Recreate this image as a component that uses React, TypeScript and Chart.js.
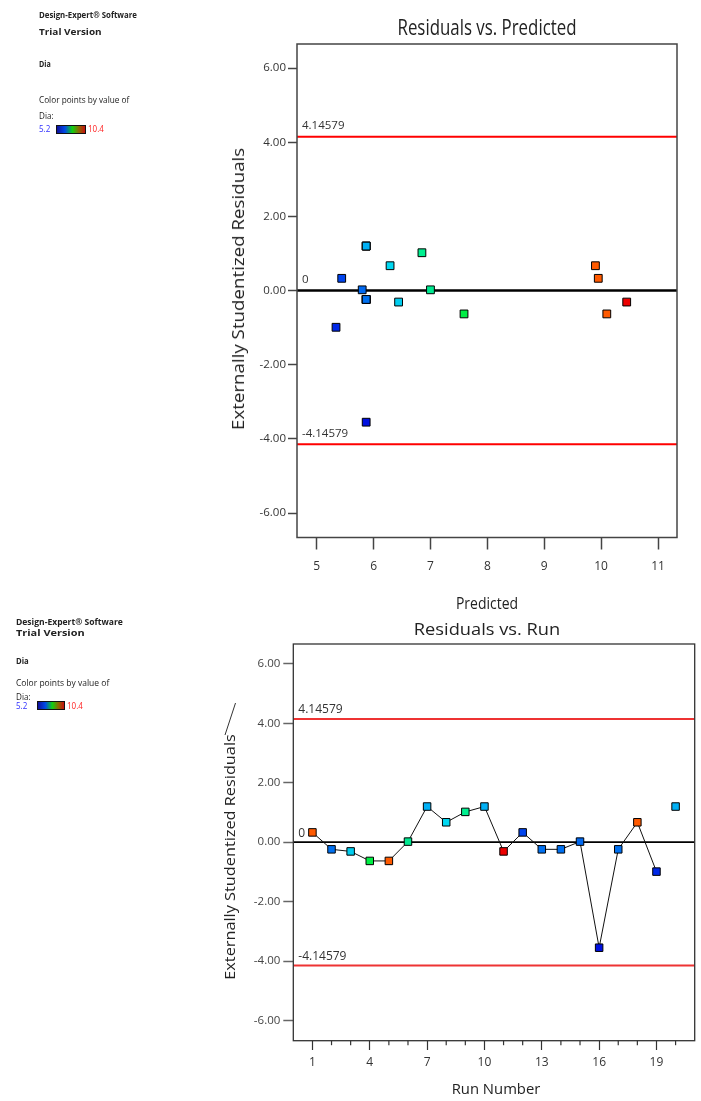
import React, { useEffect, useLayoutEffect, useRef, useState } from 'react';
import { Chart, registerables } from 'chart.js';

Chart.register(...registerables);

// ---------- data ----------
const runNumbers = [1, 2, 3, 4, 5, 6, 7, 8, 9, 10, 11, 12, 13, 14, 15, 16, 17, 18, 19, 20];
const predicted = [9.95, 5.87, 6.44, 7.59, 10.1, 7.0, 5.87, 6.29, 6.85, 5.87, 10.45, 5.44, 5.87, 5.87, 5.8, 5.87, 5.87, 9.9, 5.34, 5.87];
const residuals = [0.33, -0.24, -0.31, -0.63, -0.63, 0.02, 1.2, 0.67, 1.02, 1.2, -0.31, 0.33, -0.24, -0.24, 0.02, -3.55, -0.24, 0.67, -0.99, 1.2];
const pointColors = [
  '#ff5a00', '#0070f0', '#00cdef', '#00ee44', '#ff5a00',
  '#00e890', '#00b0f5', '#00d8f2', '#00f090', '#00b0f5',
  '#ee0000', '#0044ee', '#0070f0', '#0070f0', '#0068f0',
  '#0010e0', '#0070f0', '#ff5a00', '#0028e8', '#00b0f5',
];
const connectedRunCount = 19;
const limit = 4.14579;
const residualTicks = [-6, -4, -2, 0, 2, 4, 6];
const predictedTicks = [5, 6, 7, 8, 9, 10, 11];
const runTickLabels = [1, 4, 7, 10, 13, 16, 19];
const predictedRange = [4.654, 11.334];
const runRange = [0, 21];
const topResidualRange = [-6.66, 6.65];
const bottomResidualRange = [-6.68, 6.67];
const diaRange = ['5.2', '10.4'];

const FONT = '"Open Sans", sans-serif';

// ---------- plugin: frame, limit labels, minor ticks ----------
const framePlugin = {
  id: 'frame',
  afterDraw(chart: any, _args: any, opts: any) {
    const { ctx, chartArea } = chart;
    const ys = chart.scales.y;
    const xs = chart.scales.x;
    ctx.save();
    ctx.strokeStyle = opts.color || '#444';
    ctx.lineWidth = opts.width || 1.5;
    ctx.strokeRect(chartArea.left, chartArea.top, chartArea.right - chartArea.left, chartArea.bottom - chartArea.top);
    // limit labels
    ctx.fillStyle = '#333';
    ctx.font = opts.labelFont;
    ctx.textBaseline = 'middle';
    ctx.textAlign = 'left';
    (opts.labels || []).forEach((l: any) => {
      ctx.fillText(l.text, chartArea.left + 5, ys.getPixelForValue(l.value) - opts.labelOffset);
    });
    // minor ticks
    if (opts.minorTicks) {
      ctx.strokeStyle = '#333';
      ctx.lineWidth = 1.2;
      opts.minorTicks.forEach((v: number) => {
        const px = xs.getPixelForValue(v);
        ctx.beginPath();
        ctx.moveTo(px, chartArea.bottom);
        ctx.lineTo(px, chartArea.bottom + opts.minorLen);
        ctx.stroke();
      });
    }
    ctx.restore();
  },
};

function hLine(y: number, range: number[], color: string, width: number) {
  return {
    data: [{ x: range[0], y }, { x: range[1], y }],
    showLine: true,
    borderColor: color,
    borderWidth: width,
    pointRadius: 0,
  };
}

function makeTopConfig(): any {
  return {
    type: 'scatter',
    data: {
      datasets: [
        {
          data: predicted.map((p, i) => ({ x: p, y: residuals[i] })),
          pointStyle: 'rect',
          pointRadius: 5.5,
          pointBackgroundColor: pointColors,
          pointBorderColor: '#000',
          pointBorderWidth: 1,
          showLine: false,
        },
        hLine(0, predictedRange, '#000', 2.5),
        hLine(limit, predictedRange, '#ff0000', 2),
        hLine(-limit, predictedRange, '#ff0000', 2),
      ],
    },
    options: {
      animation: false,
      responsive: false,
      events: [],
      layout: { padding: { left: 0, right: 24, top: 44, bottom: 0 } },
      plugins: {
        legend: { display: false },
        tooltip: { enabled: false },
        frame: {
          color: '#444',
          width: 1.5,
          labelFont: `11.5px ${FONT}`,
          labelOffset: 11,
          labels: [
            { value: limit, text: String(limit) },
            { value: 0, text: '0' },
            { value: -limit, text: String(-limit) },
          ],
        },
      },
      scales: {
        x: {
          type: 'linear',
          min: predictedRange[0],
          max: predictedRange[1],
          afterBuildTicks: (s: any) => { s.ticks = predictedTicks.map((v) => ({ value: v })); },
          afterFit: (s: any) => { s.height = 82.5; },
          ticks: { padding: 10, font: { size: 12, family: FONT }, color: '#333', callback: (v: any) => String(v) },
          grid: { drawOnChartArea: false, drawTicks: true, tickLength: 12, tickColor: '#444', tickWidth: 1.5 },
          border: { display: false },
        },
        y: {
          type: 'linear',
          min: topResidualRange[0],
          max: topResidualRange[1],
          afterBuildTicks: (s: any) => { s.ticks = residualTicks.map((v) => ({ value: v })); },
          afterFit: (s: any) => { s.width = 297; },
          ticks: { padding: 2, font: { size: 11.5, family: FONT }, color: '#333', callback: (v: any) => Number(v).toFixed(2) },
          grid: { drawOnChartArea: false, drawTicks: true, tickLength: 9, tickColor: '#444', tickWidth: 1.5 },
          border: { display: false },
        },
      },
    },
    plugins: [framePlugin],
  };
}

function makeBottomConfig(): any {
  const connected = runNumbers.slice(0, connectedRunCount).map((r, i) => ({ x: r, y: residuals[i] }));
  return {
    type: 'scatter',
    data: {
      datasets: [
        {
          data: runNumbers.map((r, i) => ({ x: r, y: residuals[i] })),
          pointStyle: 'rect',
          pointRadius: 5.3,
          pointBackgroundColor: pointColors,
          pointBorderColor: '#000',
          pointBorderWidth: 1,
          showLine: false,
        },
        { data: connected, showLine: true, borderColor: '#111', borderWidth: 1, pointRadius: 0 },
        hLine(0, runRange, '#000', 1.8),
        hLine(limit, runRange, '#ee3333', 2),
        hLine(-limit, runRange, '#ee3333', 2),
      ],
    },
    options: {
      animation: false,
      responsive: false,
      events: [],
      layout: { padding: { left: 0, right: 2, top: 24, bottom: 0 } },
      plugins: {
        legend: { display: false },
        tooltip: { enabled: false },
        frame: {
          color: '#333',
          width: 1.3,
          labelFont: `12px ${FONT}`,
          labelOffset: 9,
          labels: [
            { value: limit, text: String(limit) },
            { value: 0, text: '0' },
            { value: -limit, text: String(-limit) },
          ],
          minorTicks: runNumbers.filter((r) => !runTickLabels.includes(r)),
          minorLen: 4.5,
        },
      },
      scales: {
        x: {
          type: 'linear',
          min: runRange[0],
          max: runRange[1],
          afterBuildTicks: (s: any) => { s.ticks = runTickLabels.map((v) => ({ value: v })); },
          afterFit: (s: any) => { s.height = 60.3; },
          ticks: { padding: 5, font: { size: 12, family: FONT }, color: '#333', callback: (v: any) => String(v) },
          grid: { drawOnChartArea: false, drawTicks: true, tickLength: 9.3, tickColor: '#333', tickWidth: 1.2 },
          border: { display: false },
        },
        y: {
          type: 'linear',
          min: bottomResidualRange[0],
          max: bottomResidualRange[1],
          afterBuildTicks: (s: any) => { s.ticks = residualTicks.map((v) => ({ value: v })); },
          afterFit: (s: any) => { s.width = 293.3; },
          ticks: { padding: 3, font: { size: 11.5, family: FONT }, color: '#444', callback: (v: any) => Number(v).toFixed(2) },
          grid: { drawOnChartArea: false, drawTicks: true, tickLength: 10, tickColor: '#666', tickWidth: 1.5 },
          border: { display: false },
        },
      },
    },
    plugins: [framePlugin],
  };
}

// ---------- text helper ----------
type FitProps = {
  text: string; x: number; y: number; width: number; size: number;
  weight?: number; color?: string; align?: 'center' | 'left'; rotate?: boolean;
};
function FitText({ text, x, y, width, size, weight = 400, color = '#222', align = 'center', rotate = false }: FitProps) {
  const ref = useRef<HTMLSpanElement>(null);
  const [s, setS] = useState(1);
  useLayoutEffect(() => {
    if (ref.current) {
      const w = ref.current.offsetWidth;
      if (w > 0) setS(width / w);
    }
  }, [text, width, size]);
  const transform = align === 'center'
    ? `translate(-50%, -50%) ${rotate ? 'rotate(-90deg) ' : ''}scaleX(${s})`
    : `translateY(-50%) scaleX(${s})`;
  return (
    <span
      ref={ref}
      style={{
        position: 'absolute', left: x, top: y, whiteSpace: 'nowrap', fontSize: size,
        fontFamily: FONT, fontWeight: weight, color, lineHeight: 1,
        transform, transformOrigin: align === 'center' ? '50% 50%' : '0 50%',
      }}
    >
      {text}
    </span>
  );
}

function ColorBar({ x, y, w, h }: { x: number; y: number; w: number; h: number }) {
  return (
    <div
      style={{
        position: 'absolute', left: x, top: y, width: w, height: h, boxSizing: 'border-box',
        border: '1px solid #111',
        background: 'linear-gradient(to right, #10109a, #0048e8 28%, #10d010 55%, #8a6a00 78%, #c81010)',
      }}
    />
  );
}

function SidePanel({ x, y0, w1, w2, wDia, wColor, dy, bar }: any) {
  return (
    <>
      <FitText text="Design-Expert® Software" x={x} y={y0} width={w1} size={9.5} weight={700} align="left" />
      <FitText text="Trial Version" x={x} y={y0 + dy.trial} width={w2} size={9.5} weight={700} align="left" />
      <FitText text="Dia" x={x} y={y0 + dy.dia} width={wDia} size={9.5} weight={700} align="left" />
      <FitText text="Color points by value of" x={x} y={y0 + dy.color} width={wColor} size={9.5} align="left" />
      <FitText text="Dia:" x={x} y={y0 + dy.dia2} width={14.5} size={9.5} align="left" />
      <FitText text={diaRange[0]} x={x} y={y0 + dy.range} width={11} size={9.5} color="#3030ff" align="left" />
      <ColorBar x={bar.x} y={y0 + dy.range - 4.5} w={bar.w} h={9} />
      <FitText text={diaRange[1]} x={bar.x + bar.w + 2} y={y0 + dy.range} width={16} size={9.5} color="#ff2020" align="left" />
    </>
  );
}

export default function App() {
  const topRef = useRef<HTMLCanvasElement>(null);
  const botRef = useRef<HTMLCanvasElement>(null);

  useEffect(() => {
    const c1 = new Chart(topRef.current!, makeTopConfig());
    const c2 = new Chart(botRef.current!, makeBottomConfig());
    return () => { c1.destroy(); c2.destroy(); };
  }, []);

  return (
    <div style={{ position: 'absolute', left: 0, top: 0, width: 701, height: 1101, background: '#fff', overflow: 'hidden' }}>
      <canvas ref={topRef} width={701} height={620} style={{ position: 'absolute', left: 0, top: 0, width: 701, height: 620 }} />
      <canvas ref={botRef} width={701} height={481} style={{ position: 'absolute', left: 0, top: 620, width: 701, height: 481 }} />

      {/* top chart texts */}
      <FitText text="Residuals vs. Predicted" x={487} y={27} width={179} size={21} />
      <FitText text="Predicted" x={487} y={603} width={62} size={16} />
      <FitText text="Externally Studentized Residuals" x={238} y={289} width={282} size={16} rotate />

      {/* bottom chart texts */}
      <FitText text="Residuals vs. Run" x={487} y={628} width={146} size={17} />
      <FitText text="Run Number" x={496} y={1089} width={89} size={14} />
      <FitText text="Externally Studentized Residuals" x={230} y={857} width={246} size={14.5} rotate />
      <svg style={{ position: 'absolute', left: 0, top: 0 }} width={701} height={1101}>
        <line x1={225} y1={735} x2={235.5} y2={703} stroke="#333" strokeWidth={1} />
      </svg>

      <SidePanel
        x={39} y0={15} w1={98} w2={63} wDia={12} wColor={90}
        dy={{ trial: 17, dia: 49, color: 85, dia2: 100.5, range: 114 }}
        bar={{ x: 56, w: 30 }}
      />
      <SidePanel
        x={15.5} y0={621.5} w1={107} w2={69} wDia={13} wColor={93}
        dy={{ trial: 11.5, dia: 39.5, color: 61.5, dia2: 75, range: 84 }}
        bar={{ x: 37, w: 28 }}
      />
    </div>
  );
}
